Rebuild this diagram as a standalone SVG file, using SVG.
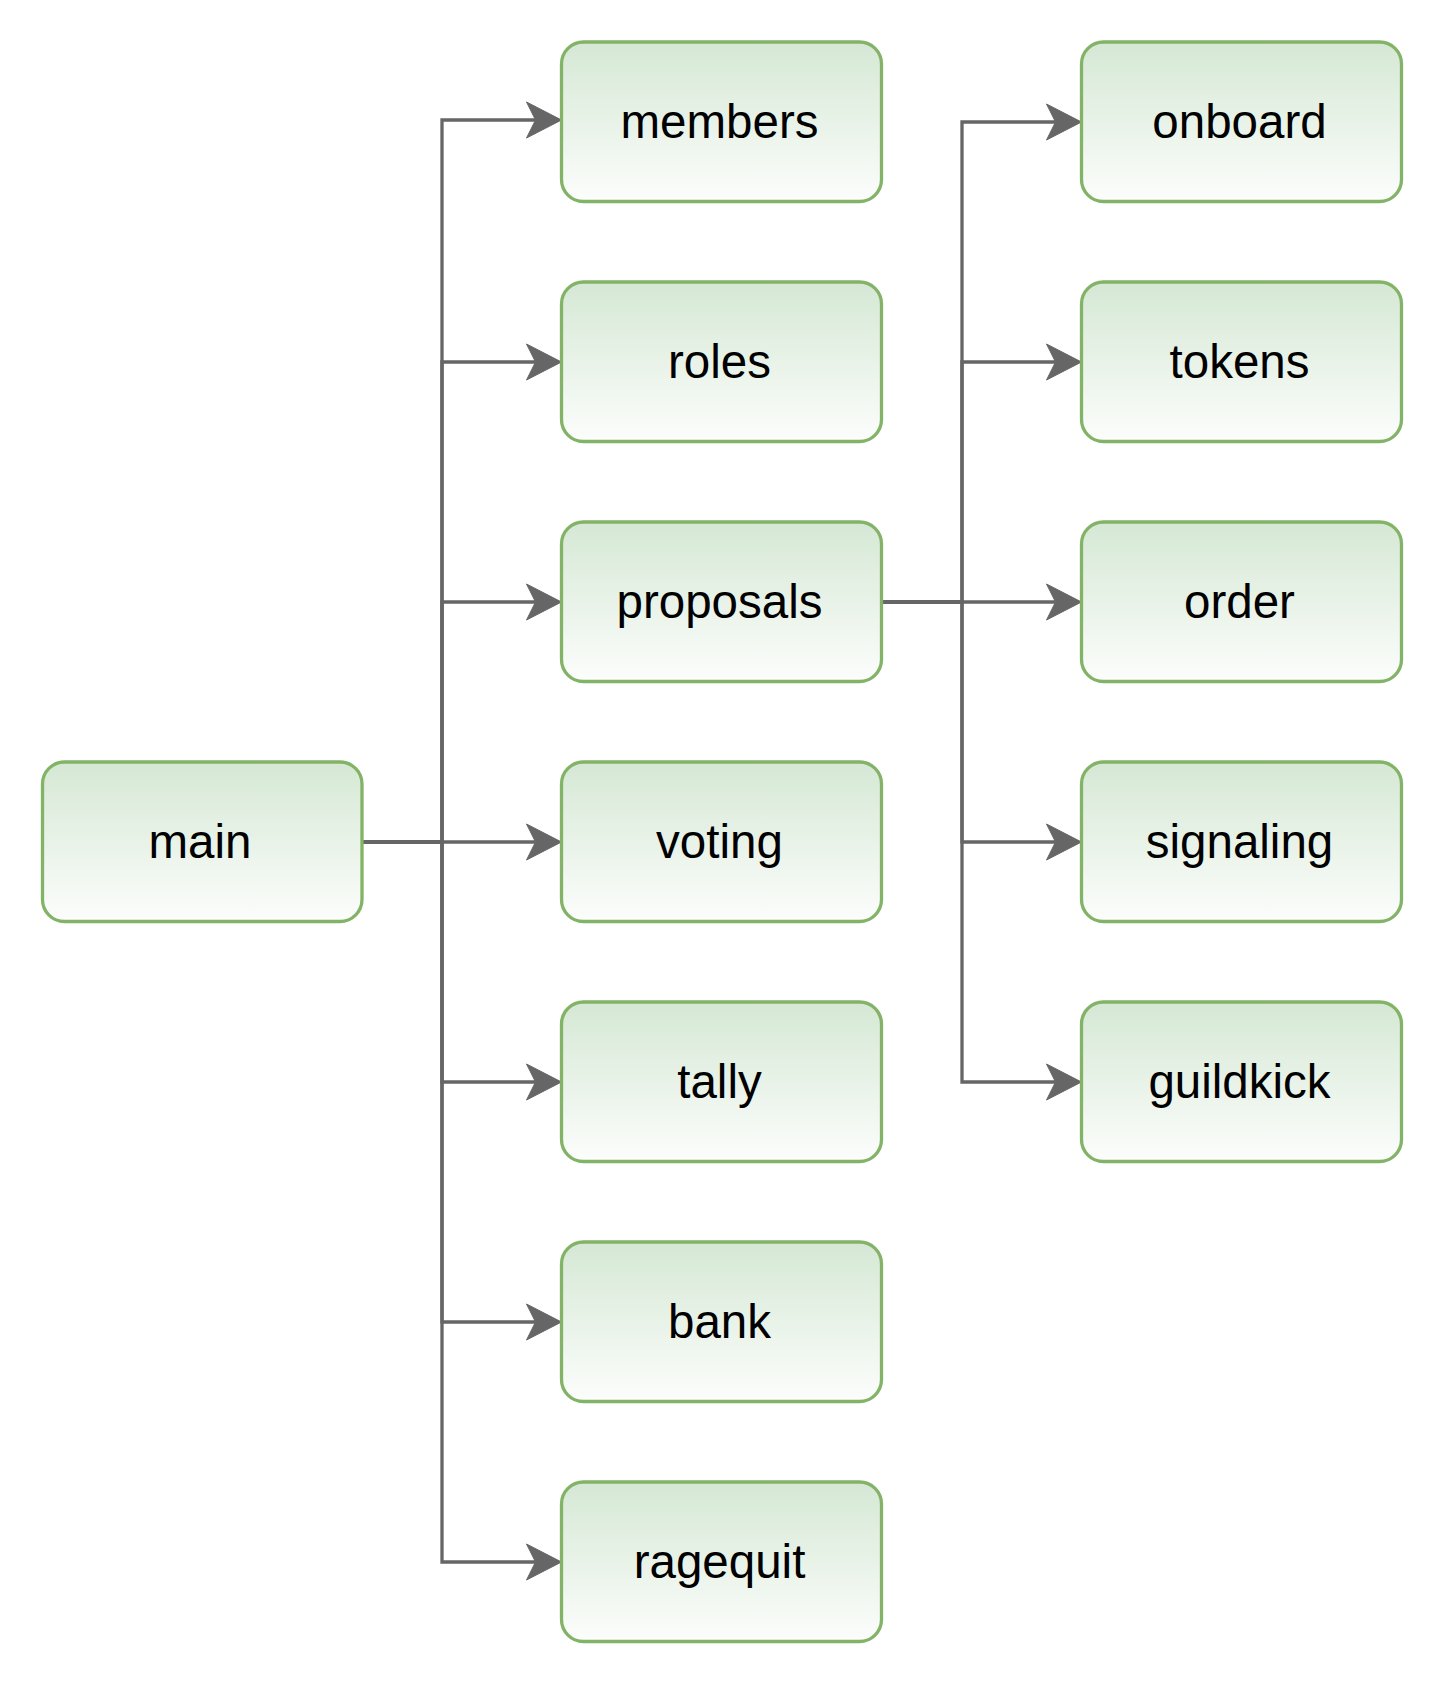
<svg xmlns="http://www.w3.org/2000/svg" width="1444" height="1684" viewBox="0 0 1444 1684">
  <style>
    .box { fill: url(#boxFill); stroke: #82b366; stroke-width: 3.3; }
    .label { font-family: "Liberation Sans", Arial, sans-serif; font-size: 47.5px; fill: #000000; text-anchor: middle; }
    .edge { fill: none; stroke: #666666; stroke-width: 3.3; marker-end: url(#arrow); }
  </style>
  <defs>
    <linearGradient id="boxFill" x1="0" y1="0" x2="0" y2="1">
      <stop offset="0" stop-color="#d5e8d4"/>
      <stop offset="1" stop-color="#fcfdfc"/>
    </linearGradient>
    <!-- block arrowhead; the line stops at the notch, the tip lies 26px further on -->
    <marker id="arrow" markerUnits="userSpaceOnUse" viewBox="-10 -20 40 40" refX="0" refY="0" markerWidth="40" markerHeight="40" orient="auto" overflow="visible">
      <path d="M26,0 L-9,-18 L0,0 L-9,18 Z" fill="#666666" stroke="#666666" stroke-width="1" stroke-linejoin="miter"/>
    </marker>
  </defs>

  <rect width="1444" height="1684" fill="#ffffff"/>

  <g id="connectors">
    <!-- main to second column -->
    <path class="edge" d="M362,842 H442 V120 H535.5"/>
    <path class="edge" d="M362,842 H442 V362 H535.5"/>
    <path class="edge" d="M362,842 H442 V602 H535.5"/>
    <path class="edge" d="M362,842 H535.5"/>
    <path class="edge" d="M362,842 H442 V1082 H535.5"/>
    <path class="edge" d="M362,842 H442 V1322 H535.5"/>
    <path class="edge" d="M362,842 H442 V1562 H535.5"/>
    <!-- proposals to third column -->
    <path class="edge" d="M882,602 H962 V122 H1055.5"/>
    <path class="edge" d="M882,602 H962 V362 H1055.5"/>
    <path class="edge" d="M882,602 H1055.5"/>
    <path class="edge" d="M882,602 H962 V842 H1055.5"/>
    <path class="edge" d="M882,602 H962 V1082 H1055.5"/>
  </g>

  <g id="main">
    <rect class="box" x="42.5" y="762" width="319.5" height="159.5" rx="22" ry="22"/>
    <text class="label" x="200" y="858">main</text>
  </g>

  <g id="members">
    <rect class="box" x="561.5" y="42" width="320" height="159.5" rx="22" ry="22"/>
    <text class="label" x="719.5" y="138">members</text>
  </g>
  <g id="roles">
    <rect class="box" x="561.5" y="282" width="320" height="159.5" rx="22" ry="22"/>
    <text class="label" x="719.5" y="378">roles</text>
  </g>
  <g id="proposals">
    <rect class="box" x="561.5" y="522" width="320" height="159.5" rx="22" ry="22"/>
    <text class="label" x="719.5" y="618">proposals</text>
  </g>
  <g id="voting">
    <rect class="box" x="561.5" y="762" width="320" height="159.5" rx="22" ry="22"/>
    <text class="label" x="719.5" y="858">voting</text>
  </g>
  <g id="tally">
    <rect class="box" x="561.5" y="1002" width="320" height="159.5" rx="22" ry="22"/>
    <text class="label" x="719.5" y="1098">tally</text>
  </g>
  <g id="bank">
    <rect class="box" x="561.5" y="1242" width="320" height="159.5" rx="22" ry="22"/>
    <text class="label" x="719.5" y="1338">bank</text>
  </g>
  <g id="ragequit">
    <rect class="box" x="561.5" y="1482" width="320" height="159.5" rx="22" ry="22"/>
    <text class="label" x="719.5" y="1578">ragequit</text>
  </g>

  <g id="onboard">
    <rect class="box" x="1081.5" y="42" width="320" height="159.5" rx="22" ry="22"/>
    <text class="label" x="1239.5" y="138">onboard</text>
  </g>
  <g id="tokens">
    <rect class="box" x="1081.5" y="282" width="320" height="159.5" rx="22" ry="22"/>
    <text class="label" x="1239.5" y="378">tokens</text>
  </g>
  <g id="order">
    <rect class="box" x="1081.5" y="522" width="320" height="159.5" rx="22" ry="22"/>
    <text class="label" x="1239.5" y="618">order</text>
  </g>
  <g id="signaling">
    <rect class="box" x="1081.5" y="762" width="320" height="159.5" rx="22" ry="22"/>
    <text class="label" x="1239.5" y="858">signaling</text>
  </g>
  <g id="guildkick">
    <rect class="box" x="1081.5" y="1002" width="320" height="159.5" rx="22" ry="22"/>
    <text class="label" x="1239.5" y="1098">guildkick</text>
  </g>
</svg>
